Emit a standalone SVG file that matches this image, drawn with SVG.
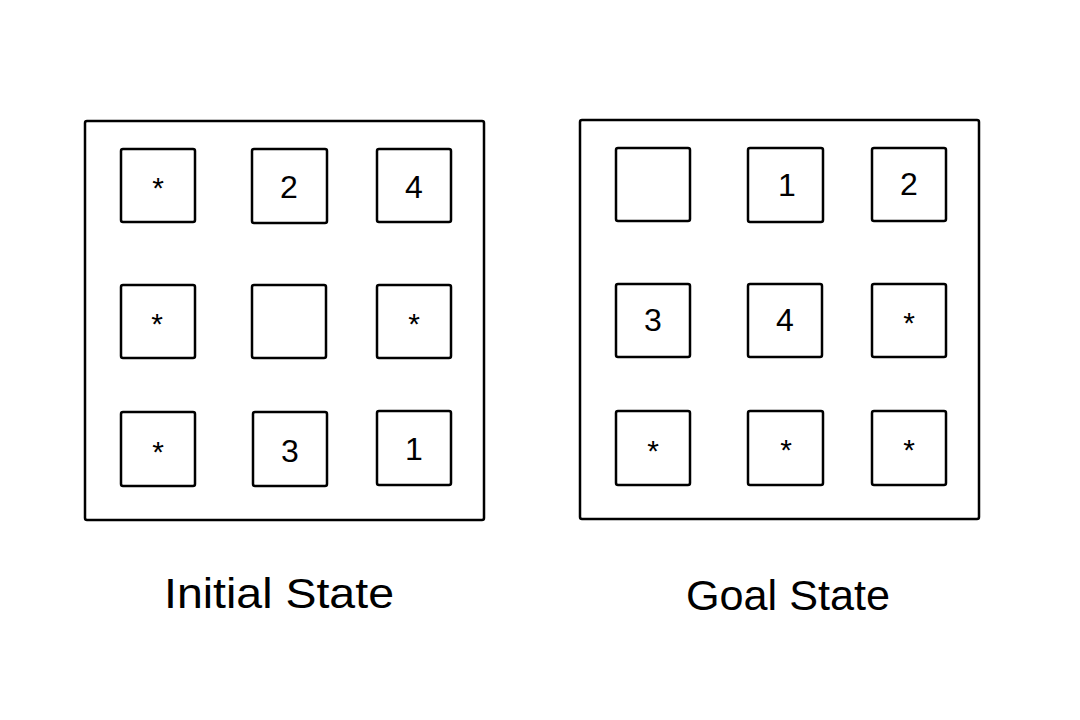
<svg xmlns="http://www.w3.org/2000/svg" width="1080" height="720" viewBox="0 0 1080 720">
<style>
.frame{fill:none;stroke:#000;stroke-width:2.5;stroke-linejoin:round}
.tile{fill:none;stroke:#000;stroke-width:2.5;stroke-linejoin:round}
.d{font-family:"Liberation Sans",Arial,sans-serif;font-size:32px;fill:#000;text-anchor:middle;dominant-baseline:central}
.s{font-family:"Liberation Sans",Arial,sans-serif;font-size:30px;fill:#000;text-anchor:middle}
.lbl{font-family:"Liberation Sans",Arial,sans-serif;font-size:42px;fill:#000;text-anchor:middle}
</style>
<rect width="1080" height="720" fill="#fff"/>
<g id="initial-state">
<rect class="frame" x="85" y="121" width="399" height="399" rx="2"/>
<g id="i-r1c1"><rect class="tile" x="121" y="149" width="74" height="73" rx="2"/><text class="s" x="158" y="198">*</text></g>
<g id="i-r1c2"><rect class="tile" x="252" y="149" width="75" height="74" rx="2"/><text class="d" x="289" y="187">2</text></g>
<g id="i-r1c3"><rect class="tile" x="377" y="149" width="74" height="73" rx="2"/><text class="d" x="414" y="187">4</text></g>
<g id="i-r2c1"><rect class="tile" x="121" y="285" width="74" height="73" rx="2"/><text class="s" x="157" y="334">*</text></g>
<g id="i-r2c2"><rect class="tile" x="252" y="285" width="74" height="73" rx="2"/></g>
<g id="i-r2c3"><rect class="tile" x="377" y="285" width="74" height="73" rx="2"/><text class="s" x="414" y="334">*</text></g>
<g id="i-r3c1"><rect class="tile" x="121" y="412" width="74" height="74" rx="2"/><text class="s" x="158" y="462">*</text></g>
<g id="i-r3c2"><rect class="tile" x="253" y="412" width="74" height="74" rx="2"/><text class="d" x="290" y="451">3</text></g>
<g id="i-r3c3"><rect class="tile" x="377" y="411" width="74" height="74" rx="2"/><text class="d" x="414" y="449">1</text></g>
</g>
<g id="goal-state">
<rect class="frame" x="580" y="120" width="399" height="399" rx="2"/>
<g id="g-r1c1"><rect class="tile" x="616" y="148" width="74" height="73" rx="2"/></g>
<g id="g-r1c2"><rect class="tile" x="748" y="148" width="75" height="74" rx="2"/><text class="d" x="787" y="185">1</text></g>
<g id="g-r1c3"><rect class="tile" x="872" y="148" width="74" height="73" rx="2"/><text class="d" x="909" y="184">2</text></g>
<g id="g-r2c1"><rect class="tile" x="616" y="284" width="74" height="73" rx="2"/><text class="d" x="653" y="320">3</text></g>
<g id="g-r2c2"><rect class="tile" x="748" y="284" width="74" height="73" rx="2"/><text class="d" x="785" y="320">4</text></g>
<g id="g-r2c3"><rect class="tile" x="872" y="284" width="74" height="73" rx="2"/><text class="s" x="909" y="333">*</text></g>
<g id="g-r3c1"><rect class="tile" x="616" y="411" width="74" height="74" rx="2"/><text class="s" x="653" y="461">*</text></g>
<g id="g-r3c2"><rect class="tile" x="748" y="411" width="75" height="74" rx="2"/><text class="s" x="786" y="460">*</text></g>
<g id="g-r3c3"><rect class="tile" x="872" y="411" width="74" height="74" rx="2"/><text class="s" x="909" y="460">*</text></g>
</g>
<g id="labels">
<text class="lbl" x="279" y="608" textLength="230" lengthAdjust="spacingAndGlyphs">Initial State</text>
<text class="lbl" x="788" y="610" textLength="204" lengthAdjust="spacingAndGlyphs">Goal State</text>
</g>
</svg>
